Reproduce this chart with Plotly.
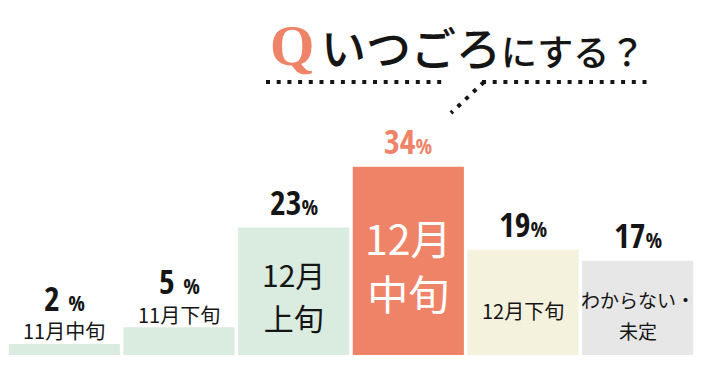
import plotly.graph_objects as go

# ---- data ----
categories = ["11月中旬", "11月下旬", "12月上旬", "12月中旬", "12月下旬", "わからない・未定"]
cat_lines = [["11月中旬"], ["11月下旬"], ["12月", "上旬"], ["12月", "中旬"], ["12月下旬"], ["わからない・", "未定"]]
values = [2, 5, 23, 34, 19, 17]
bar_colors = ["#DAEBE0", "#DAEBE0", "#DAEBE0", "#EF8368", "#F4F2DD", "#E7E7E7"]
pct_colors = ["#151515", "#151515", "#151515", "#EF8368", "#151515", "#151515"]
label_colors = ["#151515", "#151515", "#151515", "#FFFFFF", "#151515", "#151515"]
label_sizes = [20, 20, 30, 41, 20, 19]
line_sizes = [20, 20, 33, 42, 20, 24]
label_shift = [13, 13, -4, -4, -8, -7]
label_inside = [False, False, True, True, True, True]
title_q = "Q"
title_main = "いつごろ"
title_tail = "にする？"

W, H = 705, 391
ML, MR, MT, MB = 7, 10, 78, 36
PW, PH = W - ML - MR, H - MT - MB


def px(x):
    return (x - ML) / PW


def py(y):
    return (H - MB - y) / PH


NUM_FONT = "Open Sans Condensed, Roboto Condensed, sans-serif"
JP_FONT = "Noto Sans CJK JP, Noto Sans, sans-serif"

fig = go.Figure()
fig.add_trace(go.Bar(
    x=categories, y=values,
    marker=dict(color=bar_colors, line=dict(width=0)),
    hoverinfo="skip",
))

annotations = []
for i, (c, v) in enumerate(zip(categories, values)):
    sp = " " if v < 10 else ""
    pct_text = f"<b>{v}{sp}<span style='font-size:22px'>%</span></b>"
    lab_text = "<br>".join(f"<span style='font-size:{label_sizes[i]}px'>{t}</span>" for t in cat_lines[i])
    lab_font = dict(family=JP_FONT, size=line_sizes[i], color=label_colors[i])
    if label_inside[i]:
        annotations.append(dict(
            x=c, y=v, xref="x", yref="y", text=pct_text, showarrow=False,
            yanchor="middle", yshift=26,
            font=dict(family=NUM_FONT, size=34, color=pct_colors[i]),
        ))
        annotations.append(dict(
            x=c, y=v / 2, xref="x", yref="y", text=lab_text, showarrow=False,
            yanchor="middle", yshift=label_shift[i], font=lab_font,
        ))
    else:
        annotations.append(dict(
            x=c, y=v, xref="x", yref="y", text=lab_text, showarrow=False,
            yanchor="middle", yshift=label_shift[i], font=lab_font,
        ))
        annotations.append(dict(
            x=c, y=v, xref="x", yref="y", text=pct_text, showarrow=False,
            yanchor="middle", yshift=46,
            font=dict(family=NUM_FONT, size=34, color=pct_colors[i]),
        ))

# title
annotations.append(dict(
    x=px(292), y=py(46), xref="paper", yref="paper", text=f"<b>{title_q}</b>",
    showarrow=False, xanchor="center", yanchor="middle",
    font=dict(family="Liberation Serif, DejaVu Serif, serif", size=57, color="#EF8368"),
))
annotations.append(dict(
    x=px(319), y=py(47), xref="paper", yref="paper", text=title_main,
    showarrow=False, xanchor="left", yanchor="middle",
    font=dict(family=JP_FONT, size=45, color="#151515", weight=500),
))
annotations.append(dict(
    x=px(499), y=py(50), xref="paper", yref="paper", text=title_tail,
    showarrow=False, xanchor="left", yanchor="middle",
    font=dict(family=JP_FONT, size=36, color="#151515", weight=500),
))

dot_line = dict(color="#151515", width=4, dash="4px,6.7px")
shapes = [
    dict(type="line", xref="paper", yref="paper", x0=px(266), x1=px(444), y0=py(82), y1=py(82), line=dot_line),
    dict(type="line", xref="paper", yref="paper", x0=px(482), x1=px(647), y0=py(82), y1=py(82), line=dot_line),
    dict(type="line", xref="paper", yref="paper", x0=px(484), x1=px(451), y0=py(82), y1=py(113), line=dot_line),
]

fig.update_layout(
    width=W, height=H,
    margin=dict(l=ML, r=MR, t=MT, b=MB, pad=0),
    paper_bgcolor="white", plot_bgcolor="white",
    bargap=0.031,
    showlegend=False,
    xaxis=dict(visible=False, range=[-0.5, 5.5]),
    yaxis=dict(visible=False, range=[0, 50], fixedrange=True),
    annotations=annotations,
    shapes=shapes,
)

fig.write_html("out.html", config={"displayModeBar": False},
               post_script="document.body.style.margin='0';")
